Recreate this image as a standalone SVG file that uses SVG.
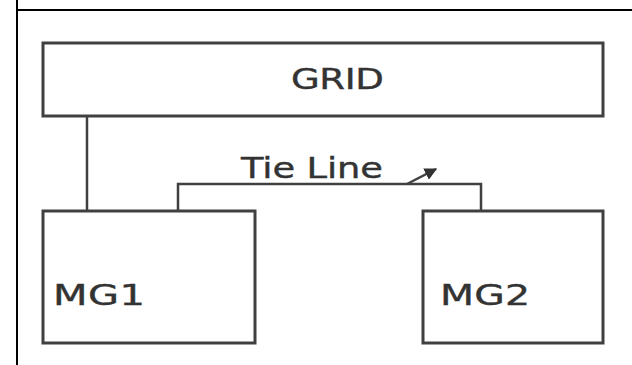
<svg xmlns="http://www.w3.org/2000/svg" width="632" height="365" viewBox="0 0 632 365">
<defs>
<style>
.frame{stroke:#000;stroke-width:2;fill:none}
.box{fill:#fff;stroke:#404040;stroke-width:3}
.wire{fill:none;stroke:#404040;stroke-width:2.5}
.lbl{font-family:"DejaVu Sans",Verdana,sans-serif;font-size:29px;fill:#333;stroke:#333;stroke-width:0.4}
</style>
<marker id="ah" viewBox="0 0 10 10" refX="9" refY="5" markerWidth="5" markerHeight="5" orient="auto">
<path d="M0,0 L10,5 L0,10 z" fill="#333"/>
</marker>
</defs>
<rect width="632" height="365" fill="#fff"/>
<g id="frame">
<line class="frame" x1="17" y1="0" x2="17" y2="365"/>
<line class="frame" x1="17" y1="10" x2="632" y2="10"/>
</g>
<g id="connectors">
<path class="wire" d="M87,116 V211"/>
<path class="wire" d="M178,211 V184 H481 V211"/>
<path class="wire" d="M407,184 L436,169" marker-end="url(#ah)"/>
</g>
<g id="grid">
<rect class="box" x="43" y="43" width="560" height="73"/>
<text class="lbl" transform="translate(291,89) scale(1.28,1)" textLength="72.6" lengthAdjust="spacing">GRID</text>
</g>
<g id="tieline-label">
<text class="lbl" transform="translate(241,178) scale(1.27,1)" textLength="111.8" lengthAdjust="spacing">Tie Line</text>
</g>
<g id="mg1">
<rect class="box" x="43" y="211" width="212" height="132"/>
<text class="lbl" transform="translate(53,305) scale(1.38,1)" textLength="66.7" lengthAdjust="spacing">MG1</text>
</g>
<g id="mg2">
<rect class="box" x="423" y="211" width="180" height="132"/>
<text class="lbl" transform="translate(440,305) scale(1.36,1)" textLength="66.2" lengthAdjust="spacing">MG2</text>
</g>
</svg>
